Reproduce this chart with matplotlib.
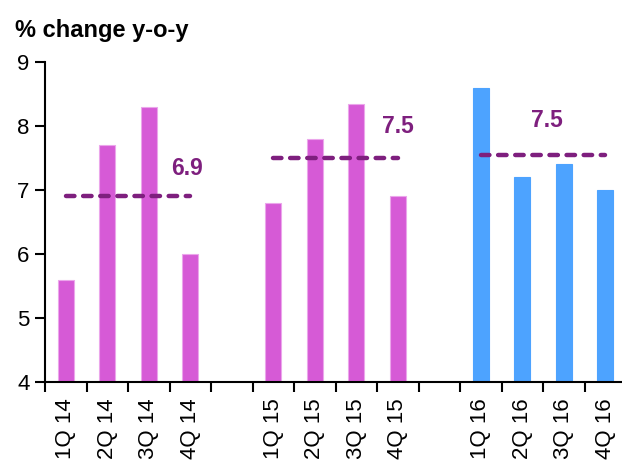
import numpy as np
import matplotlib
matplotlib.use("Agg")
import matplotlib.pyplot as plt

plt.rcParams['font.family'] = ['Liberation Sans', 'DejaVu Sans']

# data
labels = ["1Q 14", "2Q 14", "3Q 14", "4Q 14", "",
          "1Q 15", "2Q 15", "3Q 15", "4Q 15", "",
          "1Q 16", "2Q 16", "3Q 16", "4Q 16"]
values = [5.6, 7.7, 8.3, 6.0, None,
          6.8, 7.8, 8.35, 6.9, None,
          8.6, 7.2, 7.4, 7.0]
year_avg = [6.9, 7.5, 7.55]
avg_text = ["6.9", "7.5", "7.5"]
year_slots = [(0, 3), (5, 8), (10, 13)]

pink = "#D65AD6"
blue = "#4DA3FF"
purple = "#7E1F7E"

fig = plt.figure(figsize=(6.22, 4.61), dpi=100)
ax = fig.add_axes([45/622, 1 - 382/461, 581/622, 320/461])

x = np.arange(len(labels)) + 0.5
for i, v in enumerate(values):
    if v is None:
        continue
    col = blue if i >= 10 else pink
    ax.bar(x[i], v - 4, bottom=4, width=0.39, color=col,
           edgecolor="#EBA6EB" if col == pink else blue, linewidth=0.8)

# yearly average lines + labels (label position: x slot, y centre)
txt_pos = [(3.05, 7.34), (8.12, 8.0), (11.72, 8.08)]
for (a, b), m, t, (tx, ty) in zip(year_slots, year_avg, avg_text, txt_pos):
    ax.plot([x[a], x[b]], [m, m], color=purple, lw=3.2, ls=(0, (1.9, 1.95)),
            dash_capstyle="round", solid_capstyle="round")
    ax.text(tx, ty, t, color=purple, fontsize=16.5, fontweight="bold",
            va="center", ha="left")

ax.set_xlim(0, len(labels))
ax.set_ylim(4, 9)
ax.set_yticks([4, 5, 6, 7, 8, 9])
ax.set_xticks(x)
ax.set_xticklabels(labels, rotation=90)
ax.set_xticks(np.arange(len(labels) + 1), minor=True)
ax.tick_params(axis="x", which="major", length=0, pad=12, labelsize=16)
ax.tick_params(axis="x", which="minor", length=7, width=1.5, direction="out")
ax.tick_params(axis="y", length=7, width=1.5, labelsize=16, pad=4)

for s in ["top", "right"]:
    ax.spines[s].set_visible(False)
for s in ["left", "bottom"]:
    ax.spines[s].set_linewidth(1.5)

fig.text(15/622, 1 - 30/461, "% change y-o-y", fontsize=17, fontweight="bold",
         va="center", ha="left")

fig.savefig("out.png", dpi=100)
